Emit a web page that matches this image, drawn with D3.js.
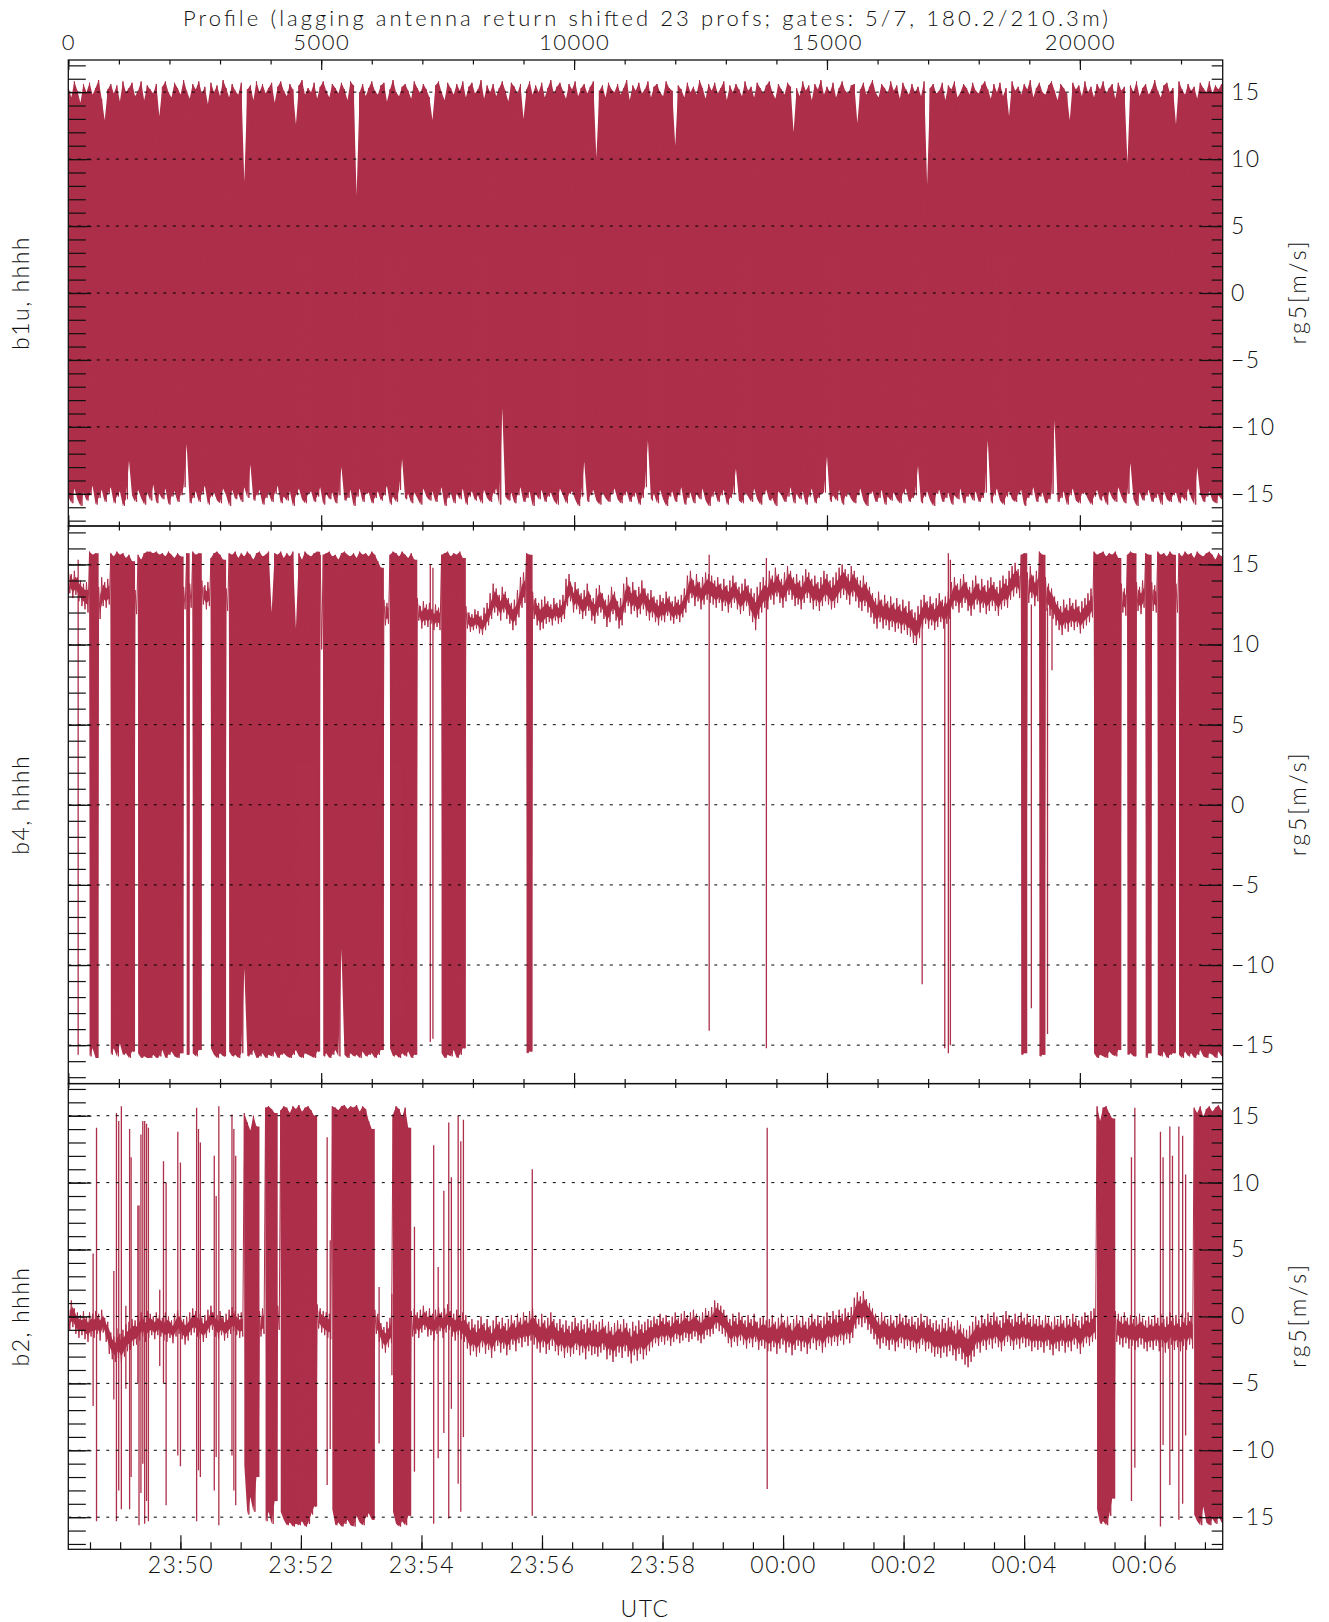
<!DOCTYPE html>
<html>
<head>
<meta charset="utf-8">
<script src="https://cdn.jsdelivr.net/npm/d3@7"></script>
<style>
  html, body { margin: 0; padding: 0; background: #fff; }
  svg text { font-family: Lato, "Open Sans", "DejaVu Sans", sans-serif; font-weight: 300; fill: #111; }
</style>
</head>
<body>
<svg id="chart" width="1329" height="1622"></svg>
<script>
// ---------------- data ----------------
// Each series is binned in blocks of 60 profiles; for every bin the highest and
// lowest radial velocity (m/s) is kept. Isolated single-profile excursions are
// listed separately as [profile, top, bottom].
const binProfiles = 60;
const profileCount = 22824;
const timeStart = new Date(Date.UTC(2019, 0, 1, 23, 48, 8, 400));
const timeEnd = new Date(Date.UTC(2019, 0, 2, 0, 7, 17, 700));
const profileTicks = [0, 5000, 10000, 15000, 20000];
const velocityTicks = [15, 10, 5, 0, -5, -10, -15];
const panelLabels = ["b1u, hhhh", "b4, hhhh", "b2, hhhh"];
const rightLabel = "rg5[m/s]";
const titleText = "Profile (lagging antenna return shifted 23 profs; gates: 5/7, 180.2/210.3m)";
const timeLabel = "UTC";

const b1uHigh = [
15.4,14.6,15.8,15.1,14.2,15.6,15.0,15.7,14.8,15.3,15.9,14.5,12.9,15.2,15.6,14.9,15.5,14.3,15.8,15.0,
15.3,15.7,14.7,15.1,15.8,14.4,15.5,15.2,14.9,15.6,13.2,15.4,15.8,15.0,14.6,15.7,15.3,14.8,15.9,15.1,
14.5,15.6,15.2,15.8,14.9,15.4,14.1,15.7,15.0,15.5,14.7,15.9,15.3,14.6,15.6,15.1,14.8,15.7,8.3,15.2,
15.5,14.4,15.8,15.0,15.6,14.9,15.3,15.7,14.2,15.4,15.8,15.1,14.7,15.6,15.2,12.6,15.5,15.9,14.8,15.3,
15.0,15.7,14.5,15.4,15.8,15.1,14.6,15.6,15.3,14.9,15.7,15.2,14.4,15.8,15.5,7.3,15.0,15.6,14.7,15.3,
15.8,15.1,14.8,15.5,15.7,14.3,15.2,15.9,15.0,14.7,15.4,15.6,15.1,14.5,15.8,15.3,14.9,15.6,15.2,14.6,
12.9,15.5,15.8,15.0,14.4,15.7,15.3,14.8,15.6,15.1,15.8,14.6,15.4,15.7,14.9,15.2,15.9,14.5,15.5,15.0,
15.6,14.7,15.3,15.8,15.1,14.3,15.7,15.4,14.9,15.6,13.0,15.2,15.8,14.8,15.5,15.0,15.7,14.6,15.3,15.9,
14.9,15.4,15.7,15.1,14.5,15.6,15.2,15.8,14.7,15.3,15.6,14.9,15.4,15.8,10.1,15.1,15.5,14.6,15.7,15.2,
15.0,15.6,14.8,15.3,15.9,14.4,15.5,15.1,15.7,14.9,15.2,15.8,14.6,15.4,15.6,15.0,14.7,15.8,15.3,15.1,
11.0,15.5,15.2,14.6,15.7,15.0,15.4,14.8,15.9,15.3,14.5,15.6,15.1,15.7,14.9,15.3,15.8,14.4,15.5,15.0,
15.6,15.2,14.7,15.8,15.1,15.4,14.6,15.7,15.3,14.9,15.5,15.8,15.0,14.5,15.6,15.2,14.8,15.7,15.4,12.0,
15.3,14.7,15.8,15.1,15.5,14.4,15.6,15.2,15.9,14.8,15.4,15.0,15.7,14.6,15.3,15.8,15.1,14.9,15.5,15.6,
12.7,15.2,15.7,14.8,15.4,15.9,15.0,14.6,15.6,15.3,14.9,15.8,15.1,15.5,14.5,15.7,15.2,14.8,15.6,15.0,
15.4,14.7,15.8,8.1,15.3,15.6,14.9,15.1,15.7,14.4,15.5,15.2,15.8,14.6,15.0,15.6,15.3,14.8,15.7,15.1,
14.9,15.5,15.8,15.2,14.5,15.6,15.0,15.7,14.7,15.3,13.2,15.8,15.1,15.4,14.8,15.6,15.2,15.9,14.6,15.3,
15.7,15.0,14.8,15.5,15.8,15.1,14.4,15.6,15.3,14.9,12.9,15.7,15.2,15.5,14.7,15.8,15.0,15.4,14.6,15.6,
15.2,15.8,14.9,15.3,15.6,14.5,15.7,15.1,15.4,9.7,15.5,15.0,15.8,14.7,15.3,15.6,14.8,15.2,15.9,15.1,
14.6,15.5,15.7,15.0,15.3,12.6,15.8,15.2,14.8,15.6,15.1,15.4,14.5,15.7,15.3,15.0,15.8,14.9,15.5,15.2,
15.6];

const b1uLow = [
-15.2,-15.7,-14.6,-15.4,-15.9,-14.9,-15.5,-15.1,-14.4,-15.8,-15.3,-14.7,-15.6,-15.0,-14.5,-15.7,-15.2,-14.8,-15.9,-15.4,
-12.5,-15.1,-15.6,-14.7,-15.3,-15.8,-14.9,-15.5,-14.3,-15.7,-15.0,-15.4,-14.6,-15.8,-15.2,-14.8,-15.6,-15.1,-14.5,-11.3,
-15.7,-15.3,-14.8,-15.6,-15.0,-14.4,-15.8,-15.2,-14.9,-15.5,-15.7,-14.6,-15.1,-15.9,-14.7,-15.4,-15.0,-15.6,-14.5,-15.3,
-12.8,-15.5,-15.1,-14.7,-15.8,-15.3,-14.9,-15.6,-15.0,-14.4,-15.7,-15.2,-15.5,-14.8,-15.9,-15.1,-14.6,-15.4,-15.7,-15.0,
-14.8,-15.6,-15.2,-14.5,-15.8,-15.0,-15.4,-14.9,-15.7,-15.1,-13.0,-15.5,-15.3,-14.7,-15.9,-15.2,-14.6,-15.6,-15.0,-14.9,
-15.7,-15.3,-14.8,-15.5,-15.1,-14.4,-15.8,-15.2,-15.6,-14.7,-12.4,-15.4,-15.0,-15.7,-14.9,-15.3,-15.8,-14.6,-15.2,-15.5,
-14.8,-15.6,-15.1,-14.5,-15.9,-15.3,-14.9,-15.7,-15.0,-15.4,-14.6,-15.8,-15.2,-14.8,-15.5,-15.1,-15.7,-14.7,-15.3,-15.6,
-15.0,-14.6,-15.8,-8.6,-15.2,-15.5,-14.9,-15.7,-15.1,-14.5,-15.6,-15.3,-14.8,-15.9,-15.0,-15.4,-14.7,-15.6,-15.2,-14.9,
-15.5,-15.8,-14.6,-15.1,-15.7,-15.0,-14.8,-15.4,-15.9,-15.2,-12.6,-15.6,-15.1,-14.7,-15.5,-15.8,-14.9,-15.3,-15.6,-15.0,
-14.6,-15.4,-15.7,-15.1,-14.8,-15.6,-15.2,-14.9,-15.8,-15.3,-14.5,-11.0,-15.5,-15.0,-15.7,-14.7,-15.4,-15.9,-15.2,-14.8,
-15.6,-15.1,-14.5,-15.8,-15.3,-14.9,-15.7,-15.0,-15.4,-14.6,-15.5,-15.9,-15.2,-14.8,-15.6,-15.1,-14.7,-15.8,-15.3,-15.0,
-13.1,-15.5,-15.7,-14.9,-15.2,-15.6,-14.6,-15.4,-15.8,-15.0,-14.7,-15.5,-15.3,-15.9,-14.8,-15.1,-15.6,-15.2,-14.5,-15.7,
-15.0,-15.4,-14.8,-15.8,-15.2,-14.6,-15.7,-15.3,-15.0,-14.9,-12.2,-15.6,-15.1,-15.5,-14.7,-15.8,-15.2,-14.9,-15.4,-15.7,
-15.1,-14.6,-15.5,-15.9,-15.0,-14.8,-15.6,-15.3,-14.7,-15.8,-15.2,-15.5,-14.9,-15.4,-15.7,-15.0,-14.6,-15.6,-15.3,-15.1,
-12.9,-15.7,-15.2,-14.8,-15.5,-15.9,-15.0,-14.7,-15.6,-15.3,-14.9,-15.8,-15.1,-15.4,-14.6,-15.7,-15.2,-15.0,-15.5,-14.8,
-15.6,-15.3,-14.9,-11.0,-15.7,-15.1,-14.6,-15.5,-15.8,-15.2,-14.8,-15.4,-15.6,-15.0,-14.7,-15.9,-15.3,-15.1,-14.5,-15.6,
-15.2,-14.9,-15.7,-15.4,-15.0,-9.5,-15.6,-15.3,-14.8,-15.8,-15.1,-14.6,-15.5,-15.7,-15.0,-14.9,-15.4,-15.8,-15.2,-14.7,
-15.5,-15.1,-15.8,-14.8,-15.3,-15.6,-14.5,-15.2,-15.7,-15.0,-12.7,-15.4,-15.9,-14.9,-15.5,-15.1,-14.7,-15.6,-15.3,-15.0,
-15.8,-14.8,-15.4,-15.6,-15.1,-14.9,-15.7,-15.2,-15.5,-14.6,-15.3,-15.8,-13.0,-15.0,-15.6,-15.2,-14.8,-15.5,-15.7,-15.1,
-15.4];

const b4High = [
14.8,14.4,14.6,14.2,14.0,13.8,13.9,15.8,15.6,15.7,
13.6,14.2,13.9,14.1,15.7,15.5,15.8,15.6,15.7,15.4,
15.6,15.2,13.4,15.6,15.3,15.7,15.8,15.8,15.7,15.8,
15.6,15.7,15.5,15.8,15.6,15.4,15.7,15.5,13.6,15.7,
13.8,15.8,15.6,15.7,14.0,13.7,13.9,15.4,15.7,15.8,
15.6,15.3,13.5,15.7,15.6,15.8,15.4,15.7,15.5,15.8,
15.6,15.3,15.7,15.8,15.5,15.6,15.8,12.0,15.7,15.6,
15.8,15.4,15.7,15.5,15.8,11.0,15.7,15.3,15.8,15.6,
15.5,15.7,15.8,15.6,15.6,15.7,15.8,15.5,15.6,15.3,
15.7,15.8,15.6,15.5,15.7,15.4,15.8,15.6,15.7,15.5,
15.8,15.6,15.2,14.8,12.8,12.6,15.6,15.8,15.7,15.5,
15.8,15.6,15.4,15.7,15.3,12.9,12.4,12.7,12.5,12.6,
12.2,12.5,12.3,15.6,15.7,15.8,15.5,15.7,15.6,15.8,
15.4,12.4,12.0,11.9,12.2,12.1,11.8,12.3,12.6,13.2,
13.8,13.5,13.1,13.6,13.3,12.9,12.6,12.8,13.4,14.2,
14.5,15.7,15.6,13.3,12.9,12.6,12.8,13.0,12.7,12.5,
12.9,12.6,12.8,13.1,14.1,14.4,13.6,13.9,13.5,13.2,
13.4,13.8,13.1,12.9,13.5,13.7,13.2,12.8,13.1,13.6,
13.3,12.7,12.9,13.8,14.2,13.6,13.9,13.4,13.6,14.0,
13.5,13.2,13.4,13.0,12.8,13.1,12.9,13.3,13.0,12.7,
13.0,12.8,13.1,13.5,14.3,14.6,14.0,14.4,13.9,14.2,
14.5,14.4,14.3,14.0,14.2,13.8,14.1,13.7,14.0,14.3,
13.9,13.6,13.8,14.1,13.7,13.5,13.2,13.6,13.9,14.2,
14.0,14.6,14.3,14.8,14.4,14.1,14.5,14.9,14.6,14.2,
14.4,14.0,14.3,14.7,14.5,14.1,14.3,13.9,14.2,14.6,
14.4,14.0,14.2,14.5,14.8,15.0,14.7,14.4,14.9,14.6,
14.2,14.0,14.3,13.9,13.6,13.2,12.9,13.3,12.8,13.1,
12.7,13.0,12.6,12.9,12.5,12.8,12.4,12.7,12.2,12.0,
12.4,12.8,13.1,12.7,13.0,12.6,12.9,13.2,12.8,13.0,
13.3,13.9,14.2,13.8,14.1,14.4,13.9,13.6,14.0,14.3,
13.8,14.1,13.7,14.0,14.2,13.9,13.6,14.0,14.3,14.1,
14.6,14.9,15.1,14.7,15.6,15.7,14.5,14.9,14.3,14.6,
15.8,15.6,14.2,13.8,13.5,13.0,12.7,12.4,12.8,12.5,
12.9,12.6,12.8,12.4,12.7,12.9,13.2,13.5,15.8,15.6,
15.7,15.8,15.5,15.7,15.6,15.8,15.4,13.8,13.5,15.6,
15.8,15.7,13.9,13.6,14.0,15.7,15.6,13.9,13.7,15.8,
15.6,15.7,15.5,15.8,15.6,13.8,15.7,15.5,15.8,15.6,
15.7,15.4,15.8,15.6,15.5,15.7,15.8,15.6,15.3,15.7,15.5];

const b4Low = [
13.2,12.9,13.1,12.7,12.4,12.2,12.0,-15.7,-15.2,-15.8,
11.6,12.4,12.3,12.5,-15.6,-15.2,-15.7,-14.9,-15.6,-15.5,
-15.8,-15.4,11.9,-15.5,-15.8,-15.7,-15.8,-15.8,-15.6,-15.8,
-15.7,-15.3,-15.8,-15.6,-15.4,-15.7,-15.8,-15.5,12.2,-15.6,
12.3,-15.5,-15.7,-15.3,12.5,12.2,12.4,-15.2,-15.6,-15.8,
-15.5,-15.7,12.1,-15.4,-15.7,-15.6,-15.8,-15.5,-10.2,-15.7,
-15.6,-15.3,-15.8,-15.7,-15.5,-15.8,-15.6,-15.7,-15.4,-15.8,
-15.6,-15.5,-15.7,-15.8,-15.6,-15.3,-15.7,-15.8,-15.5,-15.6,
-15.7,-15.8,-15.4,9.7,-15.7,-15.5,-15.8,-15.6,-15.3,-15.7,
-9.0,-15.6,-15.8,-15.5,-15.7,-15.6,-15.8,-15.4,-15.7,-15.6,
-15.5,-15.8,-15.6,-15.3,11.2,11.3,-15.2,-15.7,-15.6,-15.8,
-15.5,-15.7,-15.4,-15.8,-15.6,11.5,11.0,11.2,11.1,11.3,
10.9,11.1,10.9,-15.5,-15.8,-15.6,-15.7,-15.3,-15.8,-15.6,
-15.2,11.0,10.8,10.9,11.0,10.7,10.6,10.9,11.2,11.6,
12.0,11.8,11.5,12.0,11.6,11.3,10.9,11.2,11.7,12.3,
12.6,-15.5,-15.4,11.6,11.2,10.9,11.0,11.3,11.4,11.2,
11.5,11.3,11.4,11.6,12.4,12.7,12.0,12.2,11.9,11.6,
11.8,12.1,11.5,11.3,11.8,12.0,11.6,11.1,11.4,11.9,
11.5,11.0,11.2,12.0,12.4,11.9,12.1,11.7,11.9,12.2,
11.8,11.5,11.7,11.4,11.2,11.5,11.4,11.8,11.5,11.3,
11.6,11.4,11.7,12.0,12.6,12.9,12.4,12.7,12.2,12.5,
12.8,12.6,12.5,12.3,12.6,12.1,12.4,12.0,12.3,12.6,
12.2,11.9,12.1,12.4,11.8,11.4,10.9,11.6,12.0,12.3,
12.2,12.8,12.5,13.0,12.6,12.3,12.7,13.1,12.8,12.4,
12.5,12.2,12.6,12.9,12.6,12.2,12.4,12.1,12.4,12.7,
12.5,12.2,12.3,12.6,12.9,13.1,12.8,12.5,13.0,12.7,
12.3,12.1,12.4,12.0,11.7,11.3,11.0,11.4,11.0,11.2,
10.9,11.1,10.8,11.0,10.7,10.9,10.6,10.5,10.1,10.0,
10.4,11.0,11.3,11.0,11.2,10.9,11.1,11.4,11.0,11.3,
11.6,12.2,12.4,12.0,12.3,12.6,12.1,11.8,12.2,12.5,
12.0,12.3,11.9,12.1,12.4,12.1,11.8,12.2,12.4,12.3,
12.8,13.0,13.2,12.9,-15.6,-15.5,12.6,12.9,12.4,12.7,
-15.7,-15.6,12.1,11.8,11.6,11.2,10.9,10.6,11.0,10.8,
11.1,10.9,11.1,10.7,11.0,11.2,11.4,11.7,-15.5,-15.8,
-15.6,-15.7,-15.8,-15.4,-15.6,-15.7,-15.3,12.0,11.8,-15.6,
-15.5,-15.7,12.1,11.9,12.3,-15.8,-15.5,12.1,12.0,-15.6,
-15.7,-15.4,-15.8,-15.6,-15.5,12.0,-15.6,-15.8,-15.4,-15.7,
-15.5,-15.8,-15.6,-15.3,-15.7,-15.8,-15.5,-15.6,-15.8,-15.4,-15.7];

const b4Spikes = [
  [195, 15.3, -15.6], [7157, 15.0, -14.8], [7209, 14.8, -14.6],
  [12671, 15.6, -14.1], [13802, 15.4, -15.2], [16882, 12.0, -11.2],
  [17329, 12.6, -15.2], [17400, 15.7, -15.5], [17440, 15.3, -15.0],
  [19041, 12.5, -12.7], [19360, 12.3, -14.3], [19449, 12.2, 8.4]
];

const b2High = [
0.9,1.2,0.6,0.3,0.1,0.4,0.0,0.3,0.2,0.4,
0.2,0.5,-0.1,-0.4,-1.2,-1.5,-0.9,-1.3,-1.0,-0.6,
-0.4,-0.2,-0.3,0.1,0.3,0.0,0.4,0.2,0.0,0.3,
0.1,-0.1,0.3,0.0,-0.3,0.2,0.5,0.1,-0.2,0.0,
0.3,0.6,0.4,0.2,-0.1,0.1,0.5,0.8,0.3,0.1,
0.4,0.0,0.2,0.5,0.7,0.4,0.2,0.3,15.2,14.5,
13.9,15.0,14.2,0.4,0.6,15.6,15.7,15.5,15.2,0.8,
15.4,15.7,15.6,15.2,15.7,15.5,15.8,15.3,15.6,15.7,
15.4,15.0,0.9,0.6,0.4,0.3,0.2,15.7,15.6,15.4,
15.7,15.8,15.5,15.7,15.6,15.8,15.3,15.7,15.5,14.6,
14.0,0.5,0.2,-0.5,-0.8,-0.4,-0.1,15.1,15.7,15.5,
14.9,15.6,14.1,0.4,0.6,0.3,0.5,0.8,0.4,0.6,
0.2,0.5,0.7,0.3,0.6,0.9,0.4,0.2,0.5,0.1,
0.3,0.1,-0.4,-0.2,-0.6,-0.3,0.0,-0.5,-0.2,-0.7,
-0.3,0.0,-0.4,-0.1,-0.5,-0.2,0.1,-0.3,0.2,-0.1,
0.3,0.0,0.4,0.6,0.1,-0.2,0.2,-0.3,-0.1,0.3,
-0.2,-0.5,-0.2,-0.6,-0.3,-0.7,-0.4,-0.1,-0.5,-0.3,
-0.6,-0.2,-0.5,-0.3,-0.6,-0.4,-0.2,-0.7,-0.4,-0.8,
-0.5,-0.3,-0.6,-0.2,-0.5,-0.9,-0.4,-0.7,-0.3,-0.6,
-0.4,-0.2,-0.3,0.0,-0.2,0.2,-0.1,0.1,-0.3,0.0,
0.3,-0.1,0.2,0.4,0.1,0.3,0.5,0.2,0.0,0.3,
0.6,0.4,0.7,1.2,1.0,0.8,0.5,0.1,-0.2,0.2,
-0.1,0.3,0.0,-0.3,0.1,-0.2,0.2,-0.4,-0.1,0.0,
-0.3,-0.2,0.1,-0.4,-0.1,0.2,-0.3,0.0,-0.5,-0.2,
0.1,-0.3,0.0,-0.4,-0.1,0.2,-0.2,0.1,-0.3,0.0,
0.3,0.0,0.4,0.1,0.5,0.2,0.6,0.3,0.7,1.4,
1.8,1.5,1.9,1.3,1.0,0.6,0.2,-0.1,0.3,0.0,
-0.2,0.1,-0.3,0.0,0.2,-0.1,0.1,-0.2,0.0,-0.4,
-0.1,0.2,-0.3,0.0,-0.2,-0.5,-0.3,-0.6,-0.2,-0.5,
-0.1,-0.4,-0.7,-0.3,-0.6,-0.9,-1.0,-0.7,-0.4,0.0,
-0.3,0.1,-0.2,0.2,-0.1,0.3,0.0,-0.3,0.1,0.4,
0.1,-0.2,0.2,0.0,0.3,-0.1,0.2,-0.2,0.1,-0.2,
0.0,-0.3,0.1,-0.1,-0.4,0.0,-0.2,0.1,-0.3,0.0,
-0.2,0.2,-0.1,-0.3,0.0,0.3,0.1,0.4,0.6,15.7,
14.6,15.6,15.7,15.2,14.8,0.4,0.2,0.0,0.3,-0.1,
0.1,-0.2,0.0,0.2,-0.1,-0.3,0.0,-0.2,0.1,-0.1,
0.2,-0.2,0.0,0.3,-0.1,0.1,-0.2,0.2,-0.1,0.3,
0.0,15.6,15.2,15.7,14.9,15.5,15.7,15.3,15.6,15.8,15.4];

const b2Low = [
-1.0,-0.8,-1.3,-1.6,-1.4,-1.7,-1.9,-1.5,-1.6,-1.3,
-1.8,-1.2,-1.9,-2.8,-3.2,-3.4,-3.1,-3.5,-3.0,-2.6,
-2.5,-2.2,-2.1,-1.8,-1.5,-1.9,-1.6,-1.4,-1.7,-1.4,
-1.5,-1.8,-1.9,-1.6,-2.0,-1.5,-1.3,-1.7,-2.1,-1.8,
-1.4,-1.2,-1.5,-1.7,-1.9,-1.6,-1.2,-1.0,-1.5,-1.7,
-1.4,-1.8,-1.6,-1.3,-1.1,-1.4,-1.6,-1.5,-11.1,-14.8,
-13.5,-14.6,-12.0,-1.5,-1.3,-15.3,-14.6,-15.5,-13.8,-1.0,
-14.6,-15.2,-15.6,-15.4,-15.7,-15.5,-15.6,-15.3,-15.7,-15.5,
-14.8,-14.2,-0.9,-1.2,-1.4,-1.6,-1.7,-14.4,-15.6,-15.4,
-15.7,-15.5,-15.2,-15.6,-15.7,-14.9,-15.4,-15.6,-15.0,-14.7,
-15.2,-1.3,-1.9,-2.4,-2.7,-2.3,-2.0,-14.6,-15.5,-15.7,
-15.3,-15.6,-14.9,-1.5,-1.3,-1.6,-1.2,-1.0,-1.5,-1.4,
-1.8,-1.3,-1.1,-1.6,-1.2,-1.0,-1.5,-1.8,-1.4,-1.7,
-1.9,-2.4,-2.9,-2.6,-3.0,-2.7,-2.3,-2.8,-2.5,-3.1,
-2.6,-2.2,-2.7,-2.4,-2.9,-2.5,-2.1,-2.6,-2.0,-2.3,
-1.9,-2.2,-1.8,-2.1,-2.4,-2.7,-2.3,-2.8,-2.5,-2.2,
-2.6,-2.9,-2.6,-3.1,-2.7,-3.0,-2.8,-2.5,-2.9,-2.7,
-3.2,-2.6,-2.9,-2.8,-3.0,-2.7,-2.5,-3.2,-2.9,-3.4,
-3.0,-2.7,-3.1,-2.6,-3.0,-3.5,-2.9,-3.3,-2.8,-3.2,
-2.9,-2.6,-2.3,-2.0,-2.2,-1.9,-2.1,-1.8,-2.2,-1.9,
-1.7,-2.0,-1.8,-1.6,-1.9,-1.7,-1.5,-1.8,-2.0,-1.7,
-1.4,-1.5,-1.3,-0.9,-1.1,-1.3,-1.5,-2.0,-2.3,-1.9,
-2.2,-1.8,-2.1,-2.4,-2.0,-2.3,-1.9,-2.5,-2.2,-2.4,
-2.6,-2.6,-2.3,-2.8,-2.4,-2.1,-2.7,-2.3,-2.9,-2.5,
-2.2,-2.6,-2.3,-2.8,-2.4,-2.0,-2.5,-2.2,-2.7,-2.3,
-2.0,-2.2,-1.9,-2.2,-1.8,-2.1,-1.7,-2.0,-1.6,-0.9,
-0.6,-0.8,-0.5,-1.0,-1.3,-1.7,-2.1,-2.4,-2.0,-2.2,
-2.5,-2.1,-2.6,-2.3,-2.0,-2.4,-2.2,-2.5,-2.3,-2.7,
-2.4,-2.1,-2.6,-2.4,-2.7,-3.0,-2.8,-3.1,-2.7,-3.0,
-2.6,-2.9,-3.3,-2.8,-3.2,-3.6,-3.8,-3.4,-3.0,-2.4,
-2.7,-2.2,-2.5,-2.1,-2.4,-2.0,-2.3,-2.6,-2.2,-1.9,
-2.2,-2.5,-2.1,-2.4,-2.0,-2.3,-2.2,-2.6,-2.3,-2.5,
-2.3,-2.7,-2.2,-2.5,-2.9,-2.4,-2.6,-2.2,-2.7,-2.3,
-2.6,-2.1,-2.4,-2.8,-2.3,-2.0,-2.2,-1.9,-1.7,-14.4,
-15.5,-15.3,-15.6,-14.9,-13.6,-1.9,-2.1,-2.3,-2.0,-2.4,
-2.2,-2.5,-2.3,-2.1,-2.4,-2.6,-2.3,-2.5,-2.2,-2.6,
-2.3,-2.7,-2.4,-2.1,-2.5,-2.3,-2.6,-2.2,-2.5,-2.1,
-2.4,-14.8,-15.3,-15.6,-14.2,-15.4,-15.6,-15.1,-15.5,-14.9,-15.4];

const b2Spikes = [
  [491, 4.7, -6.7], [558, 14.1, -15.3], [900, 3.4, -6.2], [952, 15.2, -15.3],
  [997, 14.6, -13.0], [1049, 15.7, -14.4], [1138, 0.8, -5.4], [1212, 14.0, -14.4],
  [1242, 11.9, -12.0], [1376, 8.3, -5.0], [1398, 8.3, -15.6], [1436, 13.6, -13.2],
  [1473, 14.6, -11.0], [1510, 14.6, -15.5], [1547, 14.4, -13.8], [1584, 14.1, -15.3],
  [1808, 2.0, -3.7], [1882, 11.6, -5.0], [1934, 10.0, -14.1], [2165, 13.8, -10.4],
  [2217, 11.5, -11.2], [2537, 15.6, -15.3], [2574, 14.0, -11.5], [2611, 13.0, -12.0],
  [2886, 12.0, -13.0], [2924, 9.0, -10.5], [2976, 15.7, -15.6], [3236, 15.1, -10.4],
  [3273, 14.0, -13.0], [3310, 12.0, -14.1], [5118, 13.4, -12.6], [5178, 5.7, -9.9],
  [6145, 2.2, -9.5], [6398, 1.7, -4.4], [6844, 6.7, -11.6], [7224, 12.8, -15.5],
  [7313, 3.7, -10.6], [7425, 9.4, -8.7], [7522, 14.5, -15.1], [7574, 10.4, -6.9],
  [7708, 15.0, -12.5], [7760, 13.1, -14.6], [7812, 14.7, -9.0], [9173, 11.0, -14.9],
  [13818, 14.1, -12.9], [21020, 11.9, -13.8], [21087, 15.6, -11.3], [21593, 13.8, -15.7],
  [21645, 11.9, -9.6], [21779, 14.2, -12.6], [21831, 12.0, -10.0], [21957, 14.2, -15.2],
  [22032, 13.5, -14.0], [22091, 10.6, -8.9]
];

// ---------------- layout ----------------
const svg = d3.select("#chart");
const plotLeft = 68.3, plotRight = 1222.7;
const panelBounds = [[60, 526], [526, 1083.6], [1083.6, 1549.3]];
const vMax = 17.4;
const traceColor = "#ad2f4a";
const inkColor = "#111";
const aliasedSpan = 8;   // bins wider than this (m/s) are drawn as a filled envelope
const coreInset = 0.25;  // the dense core of a quiet trace, as a fraction trimmed from each side

const xProfile = d3.scaleLinear().domain([0, profileCount]).range([plotLeft, plotRight]);
const xTime = d3.scaleUtc().domain([timeStart, timeEnd]).range([plotLeft, plotRight]);

const panels = [
  { label: panelLabels[0], high: b1uHigh, low: b1uLow, spikes: [] },
  { label: panelLabels[1], high: b4High, low: b4Low, spikes: b4Spikes },
  { label: panelLabels[2], high: b2High, low: b2Low, spikes: b2Spikes }
];

const minorVelocity = d3.range(-17, 18);
const minorProfile = d3.range(0, profileCount, 1000);

function cleanAxis(sel) {
  sel.select(".domain").remove();
  sel.selectAll(".tick line").attr("stroke", inkColor).attr("stroke-width", 1.2);
  sel.attr("font-family", null).attr("font-size", null);
  sel.selectAll("text").style("font-size", "23px").style("letter-spacing", "1.5px").attr("fill", inkColor);
}

panels.forEach((panel, k) => {
  const [top, bottom] = panelBounds[k];
  const y = d3.scaleLinear().domain([-vMax, vMax]).range([bottom, top]);
  const g = svg.append("g");

  const clipId = "clip-" + k;
  svg.append("clipPath").attr("id", clipId).append("rect")
    .attr("x", plotLeft).attr("y", top).attr("width", plotRight - plotLeft).attr("height", bottom - top);
  const plot = g.append("g").attr("clip-path", `url(#${clipId})`);

  const n = Math.min(panel.high.length, panel.low.length);
  const bins = d3.range(n).map(i => ({ p: i * binProfiles, hi: panel.high[i], lo: panel.low[i] }));
  const aliased = b => b.hi - b.lo > aliasedSpan;

  // runs of aliased bins, filled between their extremes
  const runs = [];
  let run = null;
  bins.forEach(b => {
    if (aliased(b)) {
      if (!run) { run = []; runs.push(run); }
      run.push(b);
    } else run = null;
  });
  runs.forEach(r => { const last = r[r.length - 1]; r.push({ p: last.p + binProfiles, hi: last.hi, lo: last.lo }); });
  plot.selectAll("path.envelope").data(runs).join("path")
    .attr("class", "envelope")
    .attr("fill", traceColor)
    .attr("d", d3.area().x(d => xProfile(d.p)).y0(d => y(d.lo)).y1(d => y(d.hi)));

  // dense core of the quiet stretches
  plot.append("path").datum(bins)
    .attr("fill", traceColor)
    .attr("d", d3.area()
      .defined(d => !aliased(d))
      .x(d => xProfile(d.p + binProfiles / 2))
      .y0(d => y(d.lo + coreInset * (d.hi - d.lo)))
      .y1(d => y(d.hi - coreInset * (d.hi - d.lo))));

  // the trace itself: alternating bin maximum and minimum
  const trace = [];
  bins.forEach(b => {
    trace.push({ p: b.p, v: b.hi });
    trace.push({ p: b.p + binProfiles / 2, v: b.lo });
  });
  plot.append("path").datum(trace)
    .attr("fill", "none").attr("stroke", traceColor).attr("stroke-width", 1.0)
    .attr("d", d3.line().x(d => xProfile(d.p)).y(d => y(d.v)));

  // single-profile excursions
  plot.selectAll("line.spike").data(panel.spikes).join("line")
    .attr("class", "spike")
    .attr("x1", d => xProfile(d[0])).attr("x2", d => xProfile(d[0]))
    .attr("y1", d => y(d[1])).attr("y2", d => y(d[2]))
    .attr("stroke", traceColor).attr("stroke-width", 1.3);

  // dotted horizontal grid
  g.append("g").selectAll("line").data(velocityTicks).join("line")
    .attr("x1", plotLeft).attr("x2", plotRight)
    .attr("y1", d => y(d)).attr("y2", d => y(d))
    .attr("stroke", "#000").attr("stroke-width", 1).attr("stroke-dasharray", "3,6.5");

  // left ticks
  g.append("g").attr("transform", `translate(${plotLeft},0)`)
    .call(d3.axisLeft(y).tickValues(minorVelocity).tickSize(-17.5).tickFormat("")).call(cleanAxis);
  g.append("g").attr("transform", `translate(${plotLeft},0)`)
    .call(d3.axisLeft(y).tickValues(velocityTicks).tickSize(-23).tickFormat("")).call(cleanAxis);
  // right ticks with labels
  g.append("g").attr("transform", `translate(${plotRight},0)`)
    .call(d3.axisRight(y).tickValues(minorVelocity).tickSize(-11).tickFormat("")).call(cleanAxis);
  g.append("g").attr("transform", `translate(${plotRight},0)`)
    .call(d3.axisRight(y).tickValues(velocityTicks).tickSize(-23).tickPadding(8.3)).call(cleanAxis);

  // profile ticks along the top edge
  g.append("g").attr("transform", `translate(0,${top})`)
    .call(d3.axisTop(xProfile).tickValues(minorProfile).tickSize(-4.5).tickFormat("")).call(cleanAxis);
  if (k === 0) {
    const topAxis = g.append("g").attr("transform", `translate(0,${top})`)
      .call(d3.axisTop(xProfile).tickValues(profileTicks).tickSize(-10).tickPadding(10).tickFormat(d3.format("d")))
      .call(cleanAxis);
    topAxis.selectAll("text").style("font-size", "22px");
  }

  // bottom edge: profile ticks, or time ticks on the last panel
  if (k < 2) {
    g.append("g").attr("transform", `translate(0,${bottom})`)
      .call(d3.axisBottom(xProfile).tickValues(minorProfile).tickSize(-4.6).tickFormat("")).call(cleanAxis);
    g.append("g").attr("transform", `translate(0,${bottom})`)
      .call(d3.axisBottom(xProfile).tickValues(profileTicks).tickSize(-10.7).tickFormat("")).call(cleanAxis);
  } else {
    g.append("g").attr("transform", `translate(0,${bottom})`)
      .call(d3.axisBottom(xTime).ticks(d3.utcSecond.every(30)).tickSize(-7).tickFormat("")).call(cleanAxis);
    g.append("g").attr("transform", `translate(0,${bottom})`)
      .call(d3.axisBottom(xTime).ticks(d3.utcMinute.every(2)).tickSize(-14).tickPadding(7.1)
        .tickFormat(d3.utcFormat("%H:%M"))).call(cleanAxis);
  }

  // frame
  g.append("rect")
    .attr("x", plotLeft).attr("y", top).attr("width", plotRight - plotLeft).attr("height", bottom - top)
    .attr("fill", "none").attr("stroke", inkColor).attr("stroke-width", 1.3);

  // axis titles
  const mid = (top + bottom) / 2;
  svg.append("text")
    .attr("transform", `translate(29,${mid}) rotate(-90)`)
    .attr("text-anchor", "middle").style("font-size", "23px").style("letter-spacing", "1.5px")
    .text(panel.label);
  svg.append("text")
    .attr("transform", `translate(1306,${mid}) rotate(-90)`)
    .attr("text-anchor", "middle").style("font-size", "23px")
    .attr("textLength", 103).attr("lengthAdjust", "spacing")
    .text(rightLabel);
});

svg.append("text")
  .attr("x", (plotLeft + plotRight) / 2).attr("y", 26)
  .attr("text-anchor", "middle").style("font-size", "22px")
  .attr("textLength", 925).attr("lengthAdjust", "spacing")
  .text(titleText);

svg.append("text")
  .attr("x", 645).attr("y", 1617)
  .attr("text-anchor", "middle").style("font-size", "23px").style("letter-spacing", "1.5px")
  .text(timeLabel);
</script>
</body>
</html>
